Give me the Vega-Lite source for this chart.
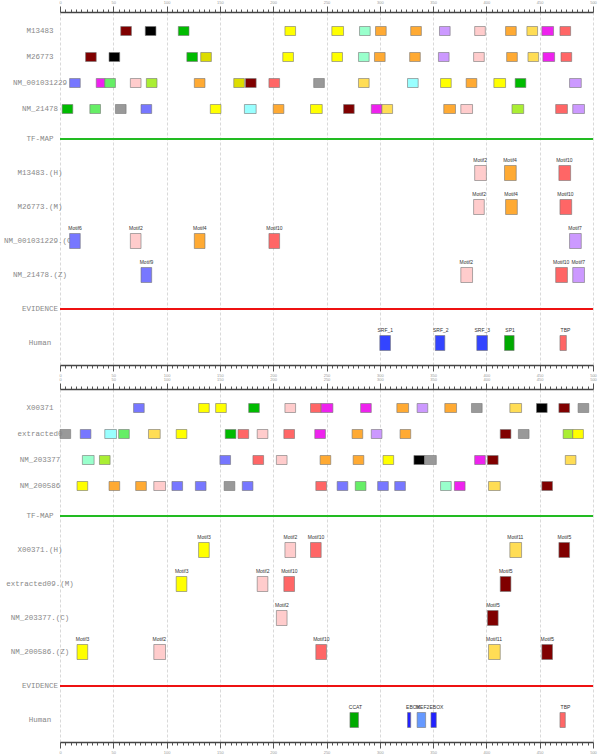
{
"$schema": "https://vega.github.io/schema/vega-lite/v6.json",
"padding": {"left": 3, "top": 0, "right": 5, "bottom": 2},
"background": "white",
"config": {
  "view": {"stroke": null},
  "axisY": {"domain": false, "ticks": false, "tickSize": 0, "grid": false, "labelAlign": "center", "labelBaseline": "middle", "labelPadding": 20.5, "labelFont": "Liberation Mono", "labelFontSize": 7.5, "labelColor": "#888", "labelLimit": 300}
},
"datasets": {
  "seqTop": [
    {"seq": "M13483", "name": "Motif5", "start": 57, "end": 67},
    {"seq": "M13483", "name": "Motif1", "start": 80, "end": 90},
    {"seq": "M13483", "name": "Motif8", "start": 111, "end": 121},
    {"seq": "M13483", "name": "Motif3", "start": 211, "end": 221},
    {"seq": "M13483", "name": "Motif3", "start": 255, "end": 266},
    {"seq": "M13483", "name": "Motif12", "start": 281, "end": 291},
    {"seq": "M13483", "name": "Motif4", "start": 296, "end": 306},
    {"seq": "M13483", "name": "Motif4", "start": 329, "end": 339},
    {"seq": "M13483", "name": "Motif7", "start": 356, "end": 366},
    {"seq": "M13483", "name": "Motif2", "start": 389, "end": 399},
    {"seq": "M13483", "name": "Motif4", "start": 418, "end": 428},
    {"seq": "M13483", "name": "Motif11", "start": 438, "end": 448},
    {"seq": "M13483", "name": "Motif13", "start": 452, "end": 463},
    {"seq": "M13483", "name": "Motif10", "start": 469, "end": 479},
    {"seq": "M26773", "name": "Motif5", "start": 24, "end": 34},
    {"seq": "M26773", "name": "Motif1", "start": 46, "end": 56},
    {"seq": "M26773", "name": "Motif8", "start": 119, "end": 129},
    {"seq": "M26773", "name": "Motif14", "start": 132, "end": 142},
    {"seq": "M26773", "name": "Motif3", "start": 209, "end": 219},
    {"seq": "M26773", "name": "Motif3", "start": 255, "end": 265},
    {"seq": "M26773", "name": "Motif12", "start": 280, "end": 290},
    {"seq": "M26773", "name": "Motif4", "start": 295, "end": 305},
    {"seq": "M26773", "name": "Motif4", "start": 328, "end": 338},
    {"seq": "M26773", "name": "Motif7", "start": 355, "end": 365},
    {"seq": "M26773", "name": "Motif2", "start": 388, "end": 398},
    {"seq": "M26773", "name": "Motif4", "start": 419, "end": 429},
    {"seq": "M26773", "name": "Motif11", "start": 439, "end": 449},
    {"seq": "M26773", "name": "Motif13", "start": 453, "end": 464},
    {"seq": "M26773", "name": "Motif10", "start": 470, "end": 480},
    {"seq": "NM_001031229", "name": "Motif6", "start": 9, "end": 19},
    {"seq": "NM_001031229", "name": "Motif13", "start": 34, "end": 42},
    {"seq": "NM_001031229", "name": "Motif15", "start": 42, "end": 52},
    {"seq": "NM_001031229", "name": "Motif2", "start": 66, "end": 76},
    {"seq": "NM_001031229", "name": "Motif16", "start": 81, "end": 91},
    {"seq": "NM_001031229", "name": "Motif4", "start": 126, "end": 136},
    {"seq": "NM_001031229", "name": "Motif14", "start": 163, "end": 173},
    {"seq": "NM_001031229", "name": "Motif5", "start": 174, "end": 184},
    {"seq": "NM_001031229", "name": "Motif10", "start": 196, "end": 206},
    {"seq": "NM_001031229", "name": "Motif17", "start": 238, "end": 248},
    {"seq": "NM_001031229", "name": "Motif11", "start": 280, "end": 290},
    {"seq": "NM_001031229", "name": "Motif18", "start": 326, "end": 336},
    {"seq": "NM_001031229", "name": "Motif3", "start": 357, "end": 367},
    {"seq": "NM_001031229", "name": "Motif4", "start": 381, "end": 391},
    {"seq": "NM_001031229", "name": "Motif3", "start": 407, "end": 418},
    {"seq": "NM_001031229", "name": "Motif8", "start": 427, "end": 437},
    {"seq": "NM_001031229", "name": "Motif7", "start": 478, "end": 489},
    {"seq": "NM_21478", "name": "Motif8", "start": 2, "end": 12},
    {"seq": "NM_21478", "name": "Motif15", "start": 28, "end": 38},
    {"seq": "NM_21478", "name": "Motif17", "start": 52, "end": 62},
    {"seq": "NM_21478", "name": "Motif9", "start": 76, "end": 86},
    {"seq": "NM_21478", "name": "Motif3", "start": 141, "end": 151},
    {"seq": "NM_21478", "name": "Motif18", "start": 173, "end": 184},
    {"seq": "NM_21478", "name": "Motif4", "start": 200, "end": 210},
    {"seq": "NM_21478", "name": "Motif3", "start": 235, "end": 246},
    {"seq": "NM_21478", "name": "Motif5", "start": 266, "end": 276},
    {"seq": "NM_21478", "name": "Motif13", "start": 292, "end": 302},
    {"seq": "NM_21478", "name": "Motif11", "start": 302, "end": 312},
    {"seq": "NM_21478", "name": "Motif4", "start": 360, "end": 371},
    {"seq": "NM_21478", "name": "Motif2", "start": 376, "end": 387},
    {"seq": "NM_21478", "name": "Motif16", "start": 424, "end": 435},
    {"seq": "NM_21478", "name": "Motif10", "start": 465, "end": 476},
    {"seq": "NM_21478", "name": "Motif7", "start": 481, "end": 492}
  ],
  "tfTop": [
    {"track": "M13483.(H)", "name": "Motif2", "start": 389, "end": 400},
    {"track": "M13483.(H)", "name": "Motif4", "start": 417, "end": 428},
    {"track": "M13483.(H)", "name": "Motif10", "start": 468, "end": 479},
    {"track": "M26773.(M)", "name": "Motif2", "start": 388, "end": 398},
    {"track": "M26773.(M)", "name": "Motif4", "start": 418, "end": 429},
    {"track": "M26773.(M)", "name": "Motif10", "start": 469, "end": 480},
    {"track": "NM_001031229.(C)", "name": "Motif6", "start": 9, "end": 19},
    {"track": "NM_001031229.(C)", "name": "Motif2", "start": 66, "end": 76},
    {"track": "NM_001031229.(C)", "name": "Motif4", "start": 126, "end": 136},
    {"track": "NM_001031229.(C)", "name": "Motif10", "start": 196, "end": 206},
    {"track": "NM_001031229.(C)", "name": "Motif7", "start": 478, "end": 489},
    {"track": "NM_21478.(Z)", "name": "Motif9", "start": 76, "end": 86},
    {"track": "NM_21478.(Z)", "name": "Motif2", "start": 376, "end": 387},
    {"track": "NM_21478.(Z)", "name": "Motif10", "start": 465, "end": 476},
    {"track": "NM_21478.(Z)", "name": "Motif7", "start": 481, "end": 492},
    {"track": "Human", "name": "SRF_1", "start": 300, "end": 310},
    {"track": "Human", "name": "SRF_2", "start": 352, "end": 361},
    {"track": "Human", "name": "SRF_3", "start": 391, "end": 401},
    {"track": "Human", "name": "SP1", "start": 417, "end": 426},
    {"track": "Human", "name": "TBP", "start": 469, "end": 475}
  ],
  "seqBottom": [
    {"seq": "X00371", "name": "Motif6", "start": 69, "end": 79},
    {"seq": "X00371", "name": "Motif3", "start": 130, "end": 140},
    {"seq": "X00371", "name": "Motif3", "start": 146, "end": 156},
    {"seq": "X00371", "name": "Motif8", "start": 177, "end": 187},
    {"seq": "X00371", "name": "Motif2", "start": 211, "end": 221},
    {"seq": "X00371", "name": "Motif10", "start": 235, "end": 245},
    {"seq": "X00371", "name": "Motif13", "start": 245, "end": 256},
    {"seq": "X00371", "name": "Motif13", "start": 282, "end": 292},
    {"seq": "X00371", "name": "Motif4", "start": 316, "end": 327},
    {"seq": "X00371", "name": "Motif7", "start": 335, "end": 345},
    {"seq": "X00371", "name": "Motif4", "start": 361, "end": 372},
    {"seq": "X00371", "name": "Motif17", "start": 386, "end": 396},
    {"seq": "X00371", "name": "Motif11", "start": 422, "end": 433},
    {"seq": "X00371", "name": "Motif1", "start": 447, "end": 457},
    {"seq": "X00371", "name": "Motif5", "start": 468, "end": 478},
    {"seq": "X00371", "name": "Motif17", "start": 486, "end": 496},
    {"seq": "extracted0", "name": "Motif17", "start": 0, "end": 10},
    {"seq": "extracted0", "name": "Motif6", "start": 19, "end": 29},
    {"seq": "extracted0", "name": "Motif18", "start": 42, "end": 53},
    {"seq": "extracted0", "name": "Motif15", "start": 55, "end": 65},
    {"seq": "extracted0", "name": "Motif11", "start": 83, "end": 94},
    {"seq": "extracted0", "name": "Motif3", "start": 109, "end": 119},
    {"seq": "extracted0", "name": "Motif8", "start": 155, "end": 165},
    {"seq": "extracted0", "name": "Motif10", "start": 167, "end": 177},
    {"seq": "extracted0", "name": "Motif2", "start": 185, "end": 195},
    {"seq": "extracted0", "name": "Motif10", "start": 210, "end": 220},
    {"seq": "extracted0", "name": "Motif13", "start": 239, "end": 249},
    {"seq": "extracted0", "name": "Motif4", "start": 274, "end": 284},
    {"seq": "extracted0", "name": "Motif7", "start": 292, "end": 302},
    {"seq": "extracted0", "name": "Motif4", "start": 319, "end": 329},
    {"seq": "extracted0", "name": "Motif5", "start": 413, "end": 423},
    {"seq": "extracted0", "name": "Motif17", "start": 430, "end": 440},
    {"seq": "extracted0", "name": "Motif16", "start": 472, "end": 481},
    {"seq": "extracted0", "name": "Motif3", "start": 481, "end": 491},
    {"seq": "NM_203377", "name": "Motif12", "start": 21, "end": 32},
    {"seq": "NM_203377", "name": "Motif16", "start": 37, "end": 47},
    {"seq": "NM_203377", "name": "Motif6", "start": 150, "end": 160},
    {"seq": "NM_203377", "name": "Motif10", "start": 181, "end": 191},
    {"seq": "NM_203377", "name": "Motif2", "start": 203, "end": 213},
    {"seq": "NM_203377", "name": "Motif4", "start": 244, "end": 254},
    {"seq": "NM_203377", "name": "Motif4", "start": 275, "end": 285},
    {"seq": "NM_203377", "name": "Motif3", "start": 303, "end": 313},
    {"seq": "NM_203377", "name": "Motif1", "start": 332, "end": 342},
    {"seq": "NM_203377", "name": "Motif17", "start": 342, "end": 353},
    {"seq": "NM_203377", "name": "Motif13", "start": 389, "end": 399},
    {"seq": "NM_203377", "name": "Motif5", "start": 401, "end": 411},
    {"seq": "NM_203377", "name": "Motif11", "start": 474, "end": 484},
    {"seq": "NM_200586", "name": "Motif3", "start": 16, "end": 26},
    {"seq": "NM_200586", "name": "Motif4", "start": 46, "end": 56},
    {"seq": "NM_200586", "name": "Motif4", "start": 71, "end": 81},
    {"seq": "NM_200586", "name": "Motif2", "start": 88, "end": 99},
    {"seq": "NM_200586", "name": "Motif6", "start": 105, "end": 115},
    {"seq": "NM_200586", "name": "Motif6", "start": 127, "end": 137},
    {"seq": "NM_200586", "name": "Motif17", "start": 154, "end": 164},
    {"seq": "NM_200586", "name": "Motif6", "start": 171, "end": 181},
    {"seq": "NM_200586", "name": "Motif10", "start": 240, "end": 250},
    {"seq": "NM_200586", "name": "Motif6", "start": 260, "end": 270},
    {"seq": "NM_200586", "name": "Motif15", "start": 277, "end": 287},
    {"seq": "NM_200586", "name": "Motif6", "start": 298, "end": 308},
    {"seq": "NM_200586", "name": "Motif6", "start": 314, "end": 324},
    {"seq": "NM_200586", "name": "Motif12", "start": 357, "end": 367},
    {"seq": "NM_200586", "name": "Motif13", "start": 370, "end": 380},
    {"seq": "NM_200586", "name": "Motif11", "start": 402, "end": 413},
    {"seq": "NM_200586", "name": "Motif5", "start": 452, "end": 462}
  ],
  "tfBottom": [
    {"track": "X00371.(H)", "name": "Motif3", "start": 130, "end": 140},
    {"track": "X00371.(H)", "name": "Motif2", "start": 211, "end": 221},
    {"track": "X00371.(H)", "name": "Motif10", "start": 235, "end": 245},
    {"track": "X00371.(H)", "name": "Motif11", "start": 422, "end": 433},
    {"track": "X00371.(H)", "name": "Motif5", "start": 468, "end": 478},
    {"track": "extracted09.(M)", "name": "Motif3", "start": 109, "end": 119},
    {"track": "extracted09.(M)", "name": "Motif2", "start": 185, "end": 195},
    {"track": "extracted09.(M)", "name": "Motif10", "start": 210, "end": 220},
    {"track": "extracted09.(M)", "name": "Motif5", "start": 413, "end": 423},
    {"track": "NM_203377.(C)", "name": "Motif2", "start": 203, "end": 213},
    {"track": "NM_203377.(C)", "name": "Motif5", "start": 401, "end": 411},
    {"track": "NM_200586.(Z)", "name": "Motif3", "start": 16, "end": 26},
    {"track": "NM_200586.(Z)", "name": "Motif2", "start": 88, "end": 99},
    {"track": "NM_200586.(Z)", "name": "Motif10", "start": 240, "end": 250},
    {"track": "NM_200586.(Z)", "name": "Motif11", "start": 402, "end": 413},
    {"track": "NM_200586.(Z)", "name": "Motif5", "start": 452, "end": 462},
    {"track": "Human", "name": "CCAT", "start": 272, "end": 280},
    {"track": "Human", "name": "EBOX", "start": 326, "end": 329},
    {"track": "Human", "name": "MEF2", "start": 335, "end": 343},
    {"track": "Human", "name": "EBOX", "start": 348, "end": 353},
    {"track": "Human", "name": "TBP", "start": 469, "end": 474}
  ]
},
"spacing": 0,
"vconcat": [
  {
    "width": 533, "height": 110,
    "data": {"name": "seqTop"},
    "mark": {"type": "rect", "height": 9, "stroke": "#777", "strokeOpacity": 0.6, "strokeWidth": 1},
    "encoding": {
      "x": {"field": "start", "type": "quantitative", "scale": {"domain": [0, 500], "nice": false, "zero": false},
            "axis": {"orient": "top", "title": null, "tickCount": 100, "labelExpr": "datum.value % 50 === 0 ? datum.label : ''", "labelOverlap": false, "labelFlush": false, "labelFontSize": 4, "labelFont": "Liberation Sans", "labelColor": "#999", "labelPadding": 2, "tickSize": {"condition": {"test": "datum.value % 50 === 0", "value": 6}, "value": 3}, "tickColor": "#555", "domainColor": "#444", "domainWidth": 1.5, "grid": true, "gridColor": "#d9d9d9", "gridDash": [3, 2], "gridOpacity": {"condition": {"test": "datum.value % 50 === 0", "value": 1}, "value": 0}}},
      "x2": {"field": "end"},
      "y": {"field": "seq", "type": "nominal", "title": null, "scale": {"domain": ["M13483", "M26773", "NM_001031229", "NM_21478"], "paddingInner": 0, "paddingOuter": 0.1154, "align": 1}},
      "color": {"field": "name", "type": "nominal", "legend": null,
                "scale": {"domain": ["Motif1","Motif2","Motif3","Motif4","Motif5","Motif6","Motif7","Motif8","Motif9","Motif10","Motif11","Motif12","Motif13","Motif14","Motif15","Motif16","Motif17","Motif18","SRF_1","SRF_2","SRF_3","SP1","TBP","CCAT","EBOX","MEF2"],
                          "range": ["#000000","#ffcccc","#ffff00","#ffaa33","#800000","#7777ff","#cc99ff","#00bb00","#7777ff","#ff6666","#ffdd55","#99ffcc","#ee22ee","#dddd00","#66ee66","#aaee33","#999999","#99ffff","#3344ff","#3344ff","#3344ff","#00aa00","#ff6666","#00aa00","#2222ff","#6699ff"]}}
    }
  },
  {
    "width": 533, "height": 243,
    "layer": [
      {
        "data": {"values": [{}]},
        "mark": {"type": "rule", "color": "#22bb22", "strokeWidth": 2},
        "encoding": {"y": {"datum": "TF-MAP", "type": "nominal", "title": null}}
      },
      {
        "data": {"values": [{}]},
        "mark": {"type": "rule", "color": "#ee1111", "strokeWidth": 2},
        "encoding": {"y": {"datum": "EVIDENCE", "type": "nominal", "title": null}}
      },
      {
        "data": {"name": "tfTop"},
        "mark": {"type": "rect", "height": 15, "stroke": "#777", "strokeOpacity": 0.6, "strokeWidth": 1},
        "encoding": {
          "x": {"field": "start", "type": "quantitative", "scale": {"domain": [0, 500], "nice": false, "zero": false},
                "axis": {"orient": "bottom", "title": null, "tickCount": 100, "labelExpr": "datum.value % 50 === 0 ? datum.label : ''", "labelOverlap": false, "labelFlush": false, "labelFontSize": 4, "labelFont": "Liberation Sans", "labelColor": "#999", "labelPadding": 2, "tickSize": {"condition": {"test": "datum.value % 50 === 0", "value": 6}, "value": 3}, "tickColor": "#555", "domainColor": "#444", "domainWidth": 1.5, "grid": true, "gridColor": "#d9d9d9", "gridDash": [3, 2], "gridOpacity": {"condition": {"test": "datum.value % 50 === 0", "value": 1}, "value": 0}}},
          "x2": {"field": "end"},
          "y": {"field": "track", "type": "nominal", "title": null, "scale": {"domain": ["TF-MAP", "M13483.(H)", "M26773.(M)", "NM_001031229.(C)", "NM_21478.(Z)", "EVIDENCE", "Human"], "paddingInner": 0, "paddingOuter": 0.0735, "align": 0}},
          "color": {"field": "name", "type": "nominal", "legend": null,
                    "scale": {"domain": ["Motif1","Motif2","Motif3","Motif4","Motif5","Motif6","Motif7","Motif8","Motif9","Motif10","Motif11","Motif12","Motif13","Motif14","Motif15","Motif16","Motif17","Motif18","SRF_1","SRF_2","SRF_3","SP1","TBP","CCAT","EBOX","MEF2"],
                              "range": ["#000000","#ffcccc","#ffff00","#ffaa33","#800000","#7777ff","#cc99ff","#00bb00","#7777ff","#ff6666","#ffdd55","#99ffcc","#ee22ee","#dddd00","#66ee66","#aaee33","#999999","#99ffff","#3344ff","#3344ff","#3344ff","#00aa00","#ff6666","#00aa00","#2222ff","#6699ff"]}}
        }
      },
      {
        "data": {"name": "tfTop"},
        "mark": {"type": "text", "font": "Liberation Sans", "fontSize": 5, "color": "#333", "align": "center", "baseline": "middle", "dx": 5.5, "dy": -13},
        "encoding": {
          "x": {"field": "start", "type": "quantitative", "title": null},
          "y": {"field": "track", "type": "nominal", "title": null},
          "text": {"field": "name"}
        }
      }
    ]
  },
  {
    "width": 533, "height": 110,
    "data": {"name": "seqBottom"},
    "mark": {"type": "rect", "height": 9, "stroke": "#777", "strokeOpacity": 0.6, "strokeWidth": 1},
    "encoding": {
      "x": {"field": "start", "type": "quantitative", "scale": {"domain": [0, 500], "nice": false, "zero": false},
            "axis": {"orient": "top", "title": null, "tickCount": 100, "labelExpr": "datum.value % 50 === 0 ? datum.label : ''", "labelOverlap": false, "labelFlush": false, "labelFontSize": 4, "labelFont": "Liberation Sans", "labelColor": "#999", "labelPadding": 2, "tickSize": {"condition": {"test": "datum.value % 50 === 0", "value": 6}, "value": 3}, "tickColor": "#555", "domainColor": "#444", "domainWidth": 1.5, "grid": true, "gridColor": "#d9d9d9", "gridDash": [3, 2], "gridOpacity": {"condition": {"test": "datum.value % 50 === 0", "value": 1}, "value": 0}}},
      "x2": {"field": "end"},
      "y": {"field": "seq", "type": "nominal", "title": null, "scale": {"domain": ["X00371", "extracted0", "NM_203377", "NM_200586"], "paddingInner": 0, "paddingOuter": 0.1154, "align": 1}},
      "color": {"field": "name", "type": "nominal", "legend": null,
                "scale": {"domain": ["Motif1","Motif2","Motif3","Motif4","Motif5","Motif6","Motif7","Motif8","Motif9","Motif10","Motif11","Motif12","Motif13","Motif14","Motif15","Motif16","Motif17","Motif18","SRF_1","SRF_2","SRF_3","SP1","TBP","CCAT","EBOX","MEF2"],
                          "range": ["#000000","#ffcccc","#ffff00","#ffaa33","#800000","#7777ff","#cc99ff","#00bb00","#7777ff","#ff6666","#ffdd55","#99ffcc","#ee22ee","#dddd00","#66ee66","#aaee33","#999999","#99ffff","#3344ff","#3344ff","#3344ff","#00aa00","#ff6666","#00aa00","#2222ff","#6699ff"]}}
    }
  },
  {
    "width": 533, "height": 243,
    "layer": [
      {
        "data": {"values": [{}]},
        "mark": {"type": "rule", "color": "#22bb22", "strokeWidth": 2},
        "encoding": {"y": {"datum": "TF-MAP", "type": "nominal", "title": null}}
      },
      {
        "data": {"values": [{}]},
        "mark": {"type": "rule", "color": "#ee1111", "strokeWidth": 2},
        "encoding": {"y": {"datum": "EVIDENCE", "type": "nominal", "title": null}}
      },
      {
        "data": {"name": "tfBottom"},
        "mark": {"type": "rect", "height": 15, "stroke": "#777", "strokeOpacity": 0.6, "strokeWidth": 1},
        "encoding": {
          "x": {"field": "start", "type": "quantitative", "scale": {"domain": [0, 500], "nice": false, "zero": false},
                "axis": {"orient": "bottom", "title": null, "tickCount": 100, "labelExpr": "datum.value % 50 === 0 ? datum.label : ''", "labelOverlap": false, "labelFlush": false, "labelFontSize": 4, "labelFont": "Liberation Sans", "labelColor": "#999", "labelPadding": 2, "tickSize": {"condition": {"test": "datum.value % 50 === 0", "value": 6}, "value": 3}, "tickColor": "#555", "domainColor": "#444", "domainWidth": 1.5, "grid": true, "gridColor": "#d9d9d9", "gridDash": [3, 2], "gridOpacity": {"condition": {"test": "datum.value % 50 === 0", "value": 1}, "value": 0}}},
          "x2": {"field": "end"},
          "y": {"field": "track", "type": "nominal", "title": null, "scale": {"domain": ["TF-MAP", "X00371.(H)", "extracted09.(M)", "NM_203377.(C)", "NM_200586.(Z)", "EVIDENCE", "Human"], "paddingInner": 0, "paddingOuter": 0.0735, "align": 0}},
          "color": {"field": "name", "type": "nominal", "legend": null,
                    "scale": {"domain": ["Motif1","Motif2","Motif3","Motif4","Motif5","Motif6","Motif7","Motif8","Motif9","Motif10","Motif11","Motif12","Motif13","Motif14","Motif15","Motif16","Motif17","Motif18","SRF_1","SRF_2","SRF_3","SP1","TBP","CCAT","EBOX","MEF2"],
                              "range": ["#000000","#ffcccc","#ffff00","#ffaa33","#800000","#7777ff","#cc99ff","#00bb00","#7777ff","#ff6666","#ffdd55","#99ffcc","#ee22ee","#dddd00","#66ee66","#aaee33","#999999","#99ffff","#3344ff","#3344ff","#3344ff","#00aa00","#ff6666","#00aa00","#2222ff","#6699ff"]}}
        }
      },
      {
        "data": {"name": "tfBottom"},
        "mark": {"type": "text", "font": "Liberation Sans", "fontSize": 5, "color": "#333", "align": "center", "baseline": "middle", "dx": 5.5, "dy": -13},
        "encoding": {
          "x": {"field": "start", "type": "quantitative", "title": null},
          "y": {"field": "track", "type": "nominal", "title": null},
          "text": {"field": "name"}
        }
      }
    ]
  }
]
}
